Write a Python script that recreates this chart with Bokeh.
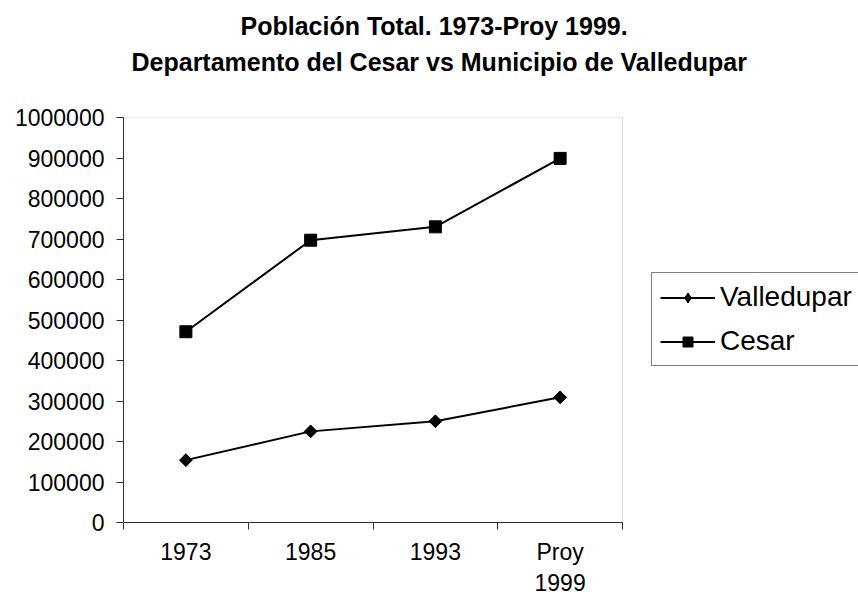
import math
from bokeh.plotting import figure
from bokeh.models import (Legend, LegendItem, Title, FixedTicker, Range1d, BasicTickFormatter,
                          BoxAnnotation)
from bokeh.embed import file_html
from bokeh.resources import INLINE

categories = ["1973", "1985", "1993", "Proy\n1999"]
valledupar = [154000, 225000, 250000, 309000]
cesar = [471000, 697000, 730000, 899000]
y_ticks = [0, 100000, 200000, 300000, 400000, 500000, 600000, 700000, 800000, 900000, 1000000]
title_line1 = "Población Total.  1973-Proy 1999."
title_line2 = "Departamento del Cesar vs Municipio de Valledupar"
series_names = ["Valledupar", "Cesar"]

n = len(categories)
xs = [i + 0.5 for i in range(n)]
boundaries = list(range(n + 1))
y_max = y_ticks[-1]

FONT = "Liberation Sans"
W, H = 858, 599
LEFT, PLOT_RIGHT, TOP, BOTTOM = 123, 622, 117, 522
# the frame runs to the right edge so the legend (outside the plot box) is not clipped
x_end = n * (W - LEFT) / (PLOT_RIGHT - LEFT)

p = figure(width=W, height=H, output_backend="svg", toolbar_location=None, title=None,
           x_range=Range1d(0, x_end), y_range=Range1d(0, y_max),
           min_border_left=LEFT, min_border_right=0, min_border_top=TOP,
           min_border_bottom=H - BOTTOM,
           background_fill_color="white", border_fill_color="white")
p.outline_line_color = None
p.xgrid.visible = False
p.ygrid.visible = False

# plot-area box (grey top/right border)
p.add_layout(BoxAnnotation(left=0, right=n, bottom=0, top=y_max, fill_alpha=0,
                           line_color="#808080", line_width=1, level="underlay"))

# x axis: labels at category centers, tick marks at category boundaries
p.xaxis.bounds = (0, n)
p.xaxis.ticker = FixedTicker(ticks=xs, minor_ticks=boundaries)
p.xaxis.major_label_overrides = {x: c for x, c in zip(xs, categories)}
p.xaxis.major_tick_out = 0
p.xaxis.major_tick_in = 0
p.xaxis.minor_tick_out = 7
p.xaxis.minor_tick_in = 0
p.xaxis.minor_tick_line_color = "#303030"
p.xaxis.major_label_standoff = 9

p.yaxis.ticker = FixedTicker(ticks=y_ticks, minor_ticks=[])
p.yaxis.formatter = BasicTickFormatter(use_scientific=False)
p.yaxis.major_tick_out = 7
p.yaxis.major_tick_in = 0
p.yaxis.major_label_standoff = 12

for ax in (p.xaxis, p.yaxis):
    ax.axis_line_color = "#303030"
    ax.axis_line_width = 1
    ax.major_tick_line_color = "#303030"
    ax.major_label_text_font = FONT
    ax.major_label_text_font_size = "23px"
    ax.major_label_text_color = "black"

l1 = p.line(xs, valledupar, line_color="black", line_width=2)
d1 = p.scatter(xs, valledupar, marker="diamond", size=12,
               fill_color="black", line_color="black")
s1 = p.scatter(xs, valledupar, marker="square", angle=math.pi / 4, size=9,
               fill_color="black", line_color="black")
l2 = p.line(xs, cesar, line_color="black", line_width=2)
s2 = p.scatter(xs, cesar, marker="square", size=12, fill_color="black", line_color="black")

legend = Legend(items=[LegendItem(label=series_names[0], renderers=[l1, d1]),
                       LegendItem(label=series_names[1], renderers=[l2, s2])],
                location=(651 - LEFT, BOTTOM - 366),
                border_line_color="black", border_line_width=1,
                background_fill_color="white", background_fill_alpha=1,
                label_text_font=FONT, label_text_font_size="28px", label_text_color="black",
                glyph_width=55, glyph_height=25, label_standoff=5, label_width=150,
                padding=8, spacing=12, margin=0)
p.add_layout(legend)

# titles: stacked from the frame outward (spacer, line 2, line 1)
p.add_layout(Title(text=" ", text_font_size="1px", standoff=36), "above")
p.add_layout(Title(text=title_line2, align="left", offset=8, standoff=6,
                   text_font=FONT, text_font_style="bold", text_font_size="25px",
                   text_color="black"), "above")
p.add_layout(Title(text=title_line1, align="left", offset=117, standoff=6,
                   text_font=FONT, text_font_style="bold", text_font_size="25px",
                   text_color="black"), "above")

open("out.html", "w").write(file_html(p, INLINE))
